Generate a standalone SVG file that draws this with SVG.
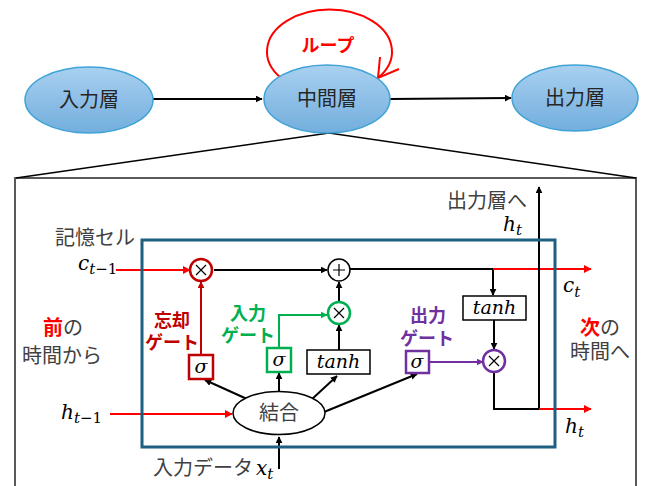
<svg xmlns="http://www.w3.org/2000/svg" width="645" height="486" viewBox="0 0 645 486">
<defs>
<linearGradient id="blueFill" x1="0" y1="0" x2="0" y2="1">
<stop offset="0" stop-color="#A9D0F0"/>
<stop offset="1" stop-color="#72AEDD"/>
</linearGradient>
<marker id="aK" viewBox="0 0 10 10" refX="9" refY="5" markerWidth="7" markerHeight="7" markerUnits="userSpaceOnUse" orient="auto"><path d="M0,0 L10,5 L0,10 z" fill="#000"/></marker>
<marker id="aR" viewBox="0 0 10 10" refX="9" refY="5" markerWidth="8" markerHeight="8" markerUnits="userSpaceOnUse" orient="auto"><path d="M0,0 L10,5 L0,10 z" fill="#FF0000"/></marker>
<marker id="aD" viewBox="0 0 10 10" refX="9" refY="5" markerWidth="7" markerHeight="7" markerUnits="userSpaceOnUse" orient="auto"><path d="M0,0 L10,5 L0,10 z" fill="#C00000"/></marker>
<marker id="aG" viewBox="0 0 10 10" refX="9" refY="5" markerWidth="7" markerHeight="7" markerUnits="userSpaceOnUse" orient="auto"><path d="M0,0 L10,5 L0,10 z" fill="#00B050"/></marker>
<marker id="aP" viewBox="0 0 10 10" refX="9" refY="5" markerWidth="7" markerHeight="7" markerUnits="userSpaceOnUse" orient="auto"><path d="M0,0 L10,5 L0,10 z" fill="#7030A0"/></marker>
</defs>
<style>
.layer{fill:url(#blueFill);stroke:#3FA3D6;stroke-width:1.5}
.jp{font-family:"Noto Sans CJK JP","Noto Sans",sans-serif;fill:#404040}
.big{font-size:20px}
.lay{font-size:20px;fill:#262626;text-anchor:middle}
.gate{font-family:"Noto Sans CJK JP","Noto Sans",sans-serif;font-size:18px;font-weight:bold;text-anchor:middle}
.m{font-family:"DejaVu Serif","Liberation Serif",serif;font-style:italic;fill:#000}
.mu{font-family:"DejaVu Serif","Liberation Serif",serif;fill:#000}
.k{fill:none;stroke:#000;stroke-width:2}
.r{fill:none;stroke:#FF0000;stroke-width:2}
.box{fill:#fff;stroke:#000;stroke-width:1.5}
.op{fill:#fff;stroke:#000;stroke-width:1.5}
.sym{fill:none;stroke:#000;stroke-width:1.2}
</style>

<g id="frame">
<rect x="15" y="178" width="621" height="320" fill="none" stroke="#595959" stroke-width="2"/>
<path d="M16,178 L329,133 L636,178" fill="none" stroke="#000" stroke-width="1.5"/>
</g>

<g id="connectors">
<path class="k" d="M153,99 L262,99" marker-end="url(#aK)"/>
<path class="k" d="M390,99 L511,98" marker-end="url(#aK)"/>
<path d="M281,78 A62.5,42 0 1 1 378,78" fill="none" stroke="#FF0000" stroke-width="2"/>
<path d="M399,69 L378,78 L380,57" fill="none" stroke="#FF0000" stroke-width="2"/>
<path class="r" d="M116,270 L190,270" marker-end="url(#aR)"/>
<path class="k" d="M214,270 L327,270" marker-end="url(#aK)"/>
<path class="k" d="M350,269 L493,269 L493,295" marker-end="url(#aK)"/>
<path class="r" d="M493,269 L591,269" marker-end="url(#aR)"/>
<path d="M201,355 L201,282" fill="none" stroke="#C00000" stroke-width="2" marker-end="url(#aD)"/>
<path class="k" d="M247,399 L205,380" marker-end="url(#aK)"/>
<path class="k" d="M279,392 L279,373" marker-end="url(#aK)"/>
<path d="M279,348 L279,315 L327,315" fill="none" stroke="#00B050" stroke-width="2" marker-end="url(#aG)"/>
<path class="k" d="M311,400 L337,376" marker-end="url(#aK)"/>
<path class="k" d="M339,350 L339,325" marker-end="url(#aK)"/>
<path class="k" d="M339,302 L339,282" marker-end="url(#aK)"/>
<path class="k" d="M324,412 L417,374" marker-end="url(#aK)"/>
<path d="M429,362 L483,362" fill="none" stroke="#7030A0" stroke-width="2" marker-end="url(#aP)"/>
<path class="k" d="M494,320 L494,349" marker-end="url(#aK)"/>
<path class="k" d="M494,373 L494,409 L539,409"/>
<path class="k" d="M539,409 L539,187" marker-end="url(#aK)"/>
<path class="r" d="M539,409 L591,409" marker-end="url(#aR)"/>
<path class="r" d="M110,414 L232,414" marker-end="url(#aR)"/>
<path class="k" d="M279,469 L279,437" marker-end="url(#aK)"/>
</g>

<g id="node-input-layer">
<ellipse class="layer" cx="89" cy="100" rx="64" ry="33"/>
<text class="jp lay" x="89" y="107">入力層</text>
</g>
<g id="node-hidden-layer">
<ellipse class="layer" cx="327" cy="99" rx="63" ry="34"/>
<text class="jp lay" x="327" y="106">中間層</text>
</g>
<g id="node-output-layer">
<ellipse class="layer" cx="575" cy="98" rx="63" ry="33"/>
<text class="jp lay" x="575" y="105">出力層</text>
</g>
<g id="label-loop">
<text x="328" y="52" font-family="Noto Sans CJK JP,Noto Sans,sans-serif" font-size="18" font-weight="bold" fill="#FF0000" text-anchor="middle">ループ</text>
</g>

<g id="memory-cell">
<rect x="142" y="240" width="413" height="207" fill="none" stroke="#1F5F80" stroke-width="3"/>
<text class="jp big" x="55" y="245">記憶セル</text>
</g>

<g id="node-forget-mult">
<circle cx="201" cy="270" r="11" fill="#fff" stroke="#C00000" stroke-width="2.5"/>
<path class="sym" d="M196,265 L206,275 M206,265 L196,275"/>
</g>
<g id="node-add">
<circle class="op" cx="339" cy="270" r="11"/>
<path class="sym" d="M333,270 L345,270 M339,264 L339,276"/>
</g>
<g id="node-input-mult">
<circle cx="339" cy="313" r="11" fill="#fff" stroke="#00B050" stroke-width="2.5"/>
<path class="sym" d="M334,308 L344,318 M344,308 L334,318"/>
</g>
<g id="node-output-mult">
<circle cx="494" cy="361" r="11" fill="#fff" stroke="#7030A0" stroke-width="2.5"/>
<path class="sym" d="M489,356 L499,366 M499,356 L489,366"/>
</g>

<g id="node-forget-sigma">
<rect x="189" y="355" width="24" height="24" fill="#fff" stroke="#C00000" stroke-width="2.5"/>
<text class="m" x="201" y="373" font-size="19" text-anchor="middle">σ</text>
<text class="gate" x="172" y="327" fill="#C00000">忘却</text>
<text class="gate" x="172" y="349" fill="#C00000">ゲート</text>
</g>
<g id="node-input-sigma">
<rect x="267" y="348" width="24" height="24" fill="#fff" stroke="#00B050" stroke-width="2.5"/>
<text class="m" x="279" y="366" font-size="19" text-anchor="middle">σ</text>
<text class="gate" x="248" y="320" fill="#00B050">入力</text>
<text class="gate" x="248" y="342" fill="#00B050">ゲート</text>
</g>
<g id="node-input-tanh">
<rect class="box" x="307" y="350" width="63" height="24"/>
<text class="m" x="338.5" y="368" font-size="19" text-anchor="middle">tanh</text>
</g>
<g id="node-output-sigma">
<rect x="406" y="351" width="23" height="22" fill="#fff" stroke="#7030A0" stroke-width="2.5"/>
<text class="m" x="417" y="368" font-size="19" text-anchor="middle">σ</text>
<text class="gate" x="428" y="322" fill="#7030A0">出力</text>
<text class="gate" x="427" y="345" fill="#7030A0">ゲート</text>
</g>
<g id="node-cell-tanh">
<rect class="box" x="463" y="296" width="63" height="24"/>
<text class="m" x="494.5" y="314" font-size="19" text-anchor="middle">tanh</text>
</g>
<g id="node-concat">
<ellipse cx="279" cy="413" rx="46" ry="21.5" fill="#fff" stroke="#000" stroke-width="1.5"/>
<text class="jp big" x="279" y="420" text-anchor="middle">結合</text>
</g>

<g id="labels">
<text class="m" x="78" y="270" font-size="20">c<tspan font-size="15" dy="4">t</tspan><tspan class="mu" font-style="normal" font-size="15">−1</tspan></text>
<text class="m" x="61" y="419" font-size="20">h<tspan font-size="15" dy="4">t</tspan><tspan class="mu" font-style="normal" font-size="15">−1</tspan></text>
<text class="m" x="503" y="231" font-size="20">h<tspan font-size="15" dy="4">t</tspan></text>
<text class="m" x="563" y="292" font-size="20">c<tspan font-size="15" dy="5">t</tspan></text>
<text class="m" x="565" y="433" font-size="20">h<tspan font-size="15" dy="4">t</tspan></text>
<text class="jp big" x="527" y="208" text-anchor="end">出力層へ</text>
<text class="jp big" x="153" y="475">入力データ<tspan class="m" font-size="20" dx="3">x</tspan><tspan class="m" font-size="15" dy="4">t</tspan></text>
<text class="jp big" x="43" y="335"><tspan fill="#FF0000" font-weight="bold">前</tspan>の</text>
<text class="jp big" x="22" y="363">時間から</text>
<text class="jp big" x="580" y="335"><tspan fill="#FF0000" font-weight="bold">次</tspan>の</text>
<text class="jp big" x="570" y="359">時間へ</text>
</g>
</svg>
